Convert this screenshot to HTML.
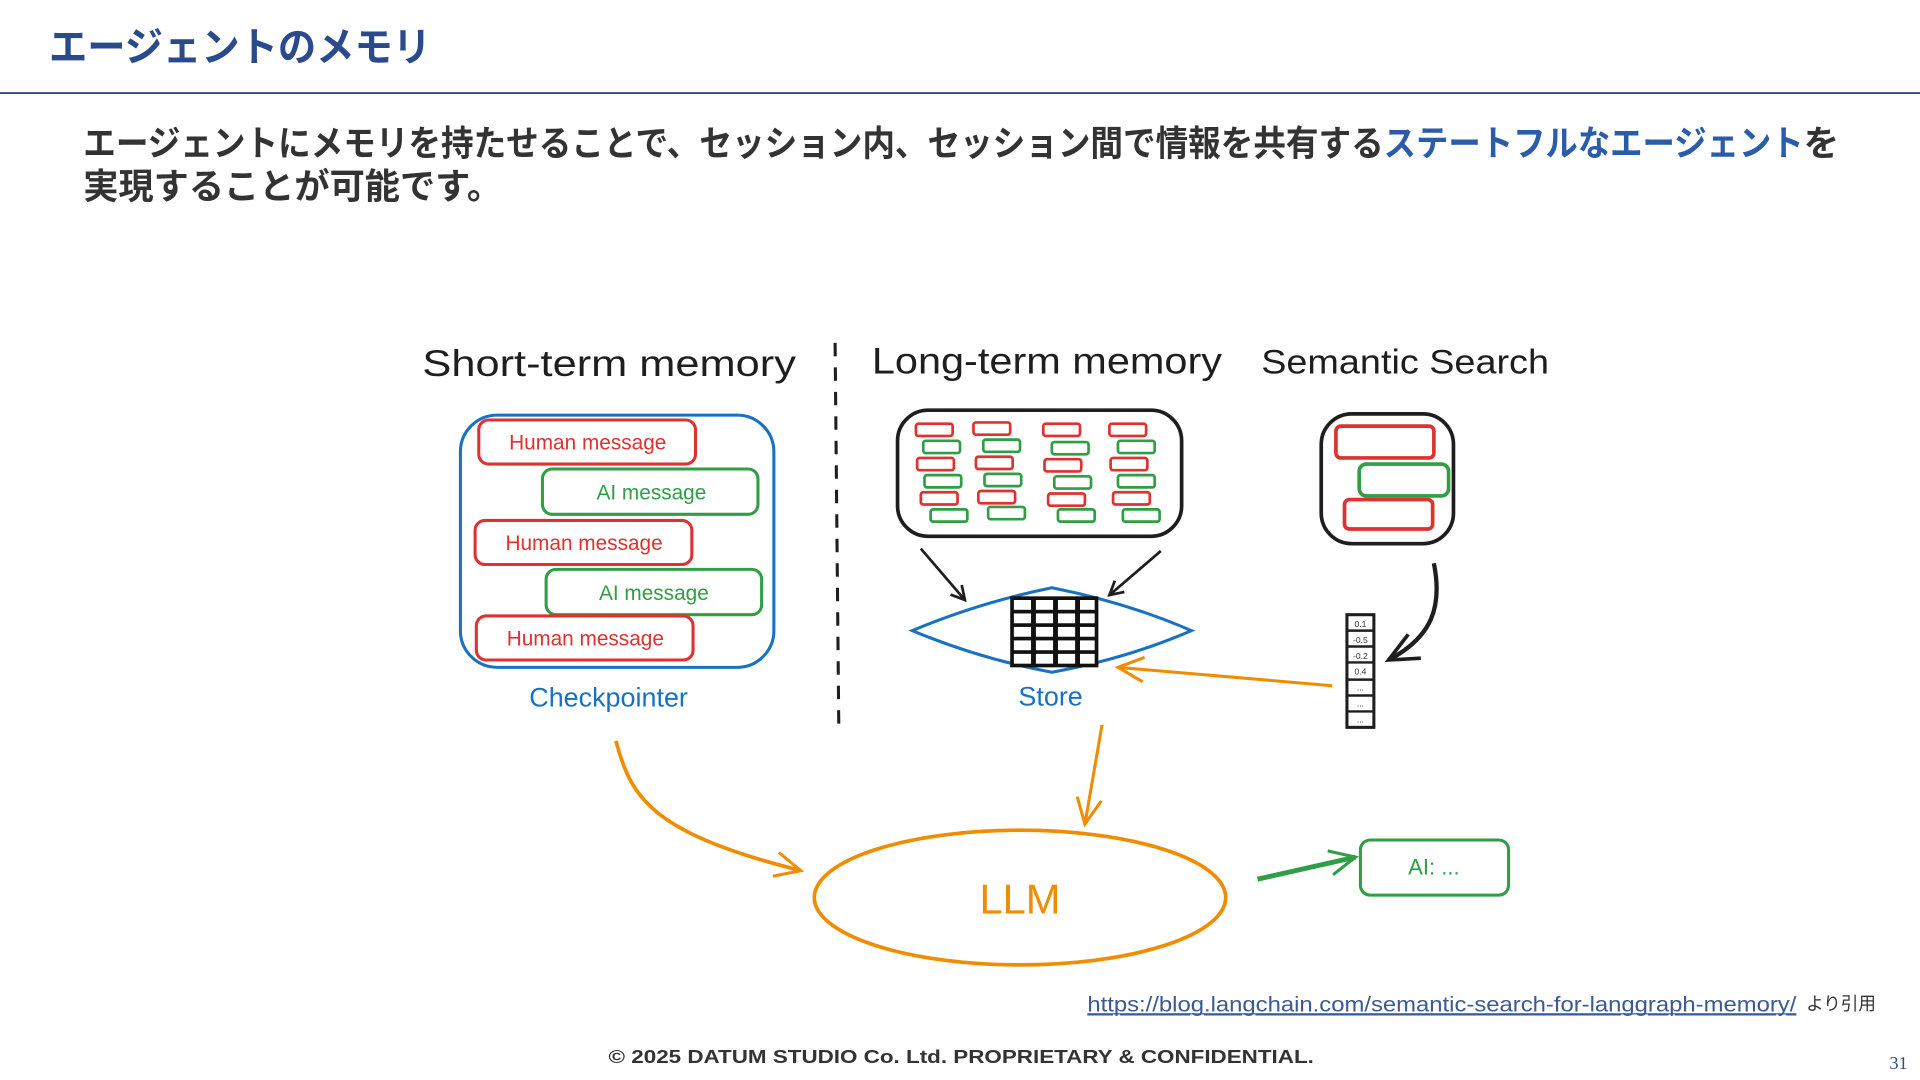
<!DOCTYPE html>
<html><head><meta charset="utf-8"><style>
html,body{margin:0;padding:0;background:#fff;width:1920px;height:1080px;overflow:hidden}
svg{display:block}
.jp{font-family:"Liberation Sans","Noto Sans CJK JP",sans-serif;font-weight:bold}
.hd{font-family:"Liberation Sans","DejaVu Sans",sans-serif}
</style></head><body>
<svg width="1920" height="1080" viewBox="0 0 1568 882" xmlns="http://www.w3.org/2000/svg">
<defs>
<marker id="ab" markerWidth="14" markerHeight="14" refX="12" refY="7" orient="auto" markerUnits="userSpaceOnUse"><path d="M1,1 L12,7 L1,13" fill="none" stroke="#1e1e1e" stroke-width="2.2"/></marker>
<marker id="ao" markerWidth="26" markerHeight="26" refX="23" refY="13" orient="auto" markerUnits="userSpaceOnUse"><path d="M2,3 L23,13 L2,23" fill="none" stroke="#f08c00" stroke-width="2.5"/></marker>
<marker id="ag" markerWidth="26" markerHeight="26" refX="23" refY="13" orient="auto" markerUnits="userSpaceOnUse"><path d="M2,3 L23,13 L2,23" fill="none" stroke="#2f9e44" stroke-width="2.5"/></marker>
<marker id="ak" markerWidth="30" markerHeight="30" refX="26" refY="15" orient="auto" markerUnits="userSpaceOnUse"><path d="M2,4 L26,15 L2,26" fill="none" stroke="#1e1e1e" stroke-width="3"/></marker>
</defs>

<!-- header -->
<text class="jp" x="40" y="50" font-size="33" fill="#2b4a8b" textLength="312" lengthAdjust="spacingAndGlyphs">エージェントのメモリ</text>
<line x1="0" y1="76" x2="1568" y2="76" stroke="#2f4f8a" stroke-width="1.6"/>
<text class="jp" y="127" font-size="29" fill="#333"><tspan x="68" textLength="1062" lengthAdjust="spacingAndGlyphs">エージェントにメモリを持たせることで、セッション内、セッション間で情報を共有する</tspan><tspan x="1130" fill="#2a5caa" textLength="343" lengthAdjust="spacingAndGlyphs">ステートフルなエージェント</tspan><tspan x="1473">を</tspan></text>
<text class="jp" x="68" y="162" font-size="29" fill="#333" textLength="342" lengthAdjust="spacingAndGlyphs">実現することが可能です。</text>

<!-- section titles -->
<text class="hd" x="345" y="307" font-size="30" fill="#1e1e1e" textLength="305" lengthAdjust="spacingAndGlyphs">Short-term memory</text>
<text class="hd" x="712" y="305" font-size="30" fill="#1e1e1e" textLength="286" lengthAdjust="spacingAndGlyphs">Long-term memory</text>
<text class="hd" x="1030" y="305" font-size="28" fill="#1e1e1e" textLength="235" lengthAdjust="spacingAndGlyphs">Semantic Search</text>
<line x1="682" y1="280" x2="685" y2="592" stroke="#1e1e1e" stroke-width="2.5" stroke-dasharray="11 9"/>

<!-- short-term -->
<rect x="376" y="339" width="256" height="206" rx="30" fill="none" stroke="#1971c2" stroke-width="2.5"/>
<g fill="none" stroke-width="2.5">
<rect x="391" y="343" width="177" height="36" rx="8" stroke="#e03131"/>
<rect x="443" y="383" width="176" height="37" rx="8" stroke="#2f9e44"/>
<rect x="388" y="425" width="177" height="36" rx="8" stroke="#e03131"/>
<rect x="446" y="465" width="176" height="37" rx="8" stroke="#2f9e44"/>
<rect x="389" y="503" width="177" height="36" rx="8" stroke="#e03131"/>
</g>
<g class="hd" font-size="17" text-anchor="middle">
<text x="480" y="367" fill="#e03131">Human message</text>
<text x="532" y="408" fill="#2f9e44">AI message</text>
<text x="477" y="449" fill="#e03131">Human message</text>
<text x="534" y="490" fill="#2f9e44">AI message</text>
<text x="478" y="527" fill="#e03131">Human message</text>
</g>
<text class="hd" x="497" y="577" font-size="22" fill="#1971c2" text-anchor="middle">Checkpointer</text>

<!-- long-term -->
<rect x="733" y="335" width="232" height="103" rx="25" fill="none" stroke="#1e1e1e" stroke-width="3"/>
<g fill="none" stroke-width="2.2">
<g stroke="#e03131">
<rect x="748" y="346" width="30" height="10" rx="2"/><rect x="795" y="345" width="30" height="10" rx="2"/><rect x="852" y="346" width="30" height="10" rx="2"/><rect x="906" y="346" width="30" height="10" rx="2"/>
<rect x="749" y="374" width="30" height="10" rx="2"/><rect x="797" y="373" width="30" height="10" rx="2"/><rect x="853" y="375" width="30" height="10" rx="2"/><rect x="907" y="374" width="30" height="10" rx="2"/>
<rect x="752" y="402" width="30" height="10" rx="2"/><rect x="799" y="401" width="30" height="10" rx="2"/><rect x="856" y="403" width="30" height="10" rx="2"/><rect x="909" y="402" width="30" height="10" rx="2"/>
</g>
<g stroke="#2f9e44">
<rect x="754" y="360" width="30" height="10" rx="2"/><rect x="803" y="359" width="30" height="10" rx="2"/><rect x="859" y="361" width="30" height="10" rx="2"/><rect x="913" y="360" width="30" height="10" rx="2"/>
<rect x="755" y="388" width="30" height="10" rx="2"/><rect x="804" y="387" width="30" height="10" rx="2"/><rect x="861" y="389" width="30" height="10" rx="2"/><rect x="913" y="388" width="30" height="10" rx="2"/>
<rect x="760" y="416" width="30" height="10" rx="2"/><rect x="807" y="414" width="30" height="10" rx="2"/><rect x="864" y="416" width="30" height="10" rx="2"/><rect x="917" y="416" width="30" height="10" rx="2"/>
</g>
</g>
<line x1="752" y1="448" x2="788" y2="490" stroke="#1e1e1e" stroke-width="2.2" marker-end="url(#ab)"/>
<line x1="948" y1="450" x2="906" y2="486" stroke="#1e1e1e" stroke-width="2.2" marker-end="url(#ab)"/>
<path d="M745,515 Q800,492 859,480 Q920,492 973,515 Q920,538 859,549 Q800,538 745,515 Z" fill="none" stroke="#1971c2" stroke-width="2.5"/>
<rect x="825" y="487" width="72" height="58" fill="#111"/>
<g fill="#fff">
<rect x="828" y="490" width="14" height="8"/><rect x="846" y="490" width="14" height="8"/><rect x="864" y="490" width="14" height="8"/><rect x="882" y="490" width="12" height="8"/>
<rect x="828" y="501" width="14" height="8"/><rect x="846" y="501" width="14" height="8"/><rect x="864" y="501" width="14" height="8"/><rect x="882" y="501" width="12" height="8"/>
<rect x="828" y="512" width="14" height="8"/><rect x="846" y="512" width="14" height="8"/><rect x="864" y="512" width="14" height="8"/><rect x="882" y="512" width="12" height="8"/>
<rect x="828" y="523" width="14" height="8"/><rect x="846" y="523" width="14" height="8"/><rect x="864" y="523" width="14" height="8"/><rect x="882" y="523" width="12" height="8"/>
<rect x="828" y="534" width="14" height="8"/><rect x="846" y="534" width="14" height="8"/><rect x="864" y="534" width="14" height="8"/><rect x="882" y="534" width="12" height="8"/>
</g>
<text class="hd" x="858" y="576" font-size="22" fill="#1971c2" text-anchor="middle">Store</text>

<!-- semantic -->
<rect x="1079" y="338" width="108" height="106" rx="25" fill="none" stroke="#1e1e1e" stroke-width="3"/>
<rect x="1091" y="348" width="80" height="26" rx="4" fill="none" stroke="#e03131" stroke-width="3"/>
<rect x="1110" y="379" width="73" height="26" rx="6" fill="none" stroke="#2f9e44" stroke-width="3"/>
<rect x="1098" y="408" width="72" height="24" rx="4" fill="none" stroke="#e03131" stroke-width="3"/>
<path d="M1171,460 C1178,495 1170,520 1134,539" fill="none" stroke="#1e1e1e" stroke-width="3.5" marker-end="url(#ak)"/>
<rect x="1100" y="502" width="22" height="92" fill="#fff" stroke="#1e1e1e" stroke-width="2.5"/>
<g stroke="#1e1e1e" stroke-width="2"><line x1="1100" y1="515" x2="1122" y2="515"/><line x1="1100" y1="528" x2="1122" y2="528"/><line x1="1100" y1="541" x2="1122" y2="541"/><line x1="1100" y1="555" x2="1122" y2="555"/><line x1="1100" y1="568" x2="1122" y2="568"/><line x1="1100" y1="581" x2="1122" y2="581"/></g>
<g class="hd" font-size="7" fill="#333" text-anchor="middle"><text x="1111" y="512">0.1</text><text x="1111" y="525">-0.5</text><text x="1111" y="538">-0.2</text><text x="1111" y="551">0.4</text><text x="1111" y="564">...</text><text x="1111" y="577">...</text><text x="1111" y="590">...</text></g>

<!-- orange arrows -->
<line x1="1088" y1="560" x2="913" y2="545" stroke="#f08c00" stroke-width="2.5" marker-end="url(#ao)"/>
<path d="M503,605 C515,650 530,680 654,711" fill="none" stroke="#f08c00" stroke-width="3" marker-end="url(#ao)"/>
<line x1="900" y1="592" x2="886" y2="673" stroke="#f08c00" stroke-width="2.5" marker-end="url(#ao)"/>

<!-- LLM -->
<ellipse cx="833" cy="733" rx="168" ry="55" fill="none" stroke="#f08c00" stroke-width="3"/>
<text class="hd" x="833" y="746" font-size="34" fill="#f08c00" text-anchor="middle">LLM</text>
<line x1="1027" y1="718" x2="1107" y2="700" stroke="#2f9e44" stroke-width="4" marker-end="url(#ag)"/>
<rect x="1111" y="686" width="121" height="45" rx="8" fill="none" stroke="#2f9e44" stroke-width="2.5"/>
<text class="hd" x="1171" y="714" font-size="18" fill="#2f9e44" text-anchor="middle">AI: ...</text>

<!-- footer -->
<text class="jp" x="888" y="826" font-size="17" font-weight="normal" style="font-weight:normal" fill="#3b5a95" text-decoration="underline" textLength="579" lengthAdjust="spacingAndGlyphs">https://blog.langchain.com/semantic-search-for-langgraph-memory/</text>
<line x1="888" y1="828" x2="1467" y2="828" stroke="#3b5a95" stroke-width="1"/>
<text class="jp" x="1475" y="825" font-size="15" style="font-weight:normal" fill="#333" textLength="57" lengthAdjust="spacingAndGlyphs">より引用</text>
<text class="jp" x="785" y="868" font-size="15" fill="#333" text-anchor="middle" textLength="576" lengthAdjust="spacingAndGlyphs">© 2025 DATUM STUDIO Co. Ltd. PROPRIETARY &amp; CONFIDENTIAL.</text>
<text x="1543" y="873" font-size="15" fill="#2f4f8a" font-family="Liberation Serif, serif">31</text>
</svg>
</body></html>
